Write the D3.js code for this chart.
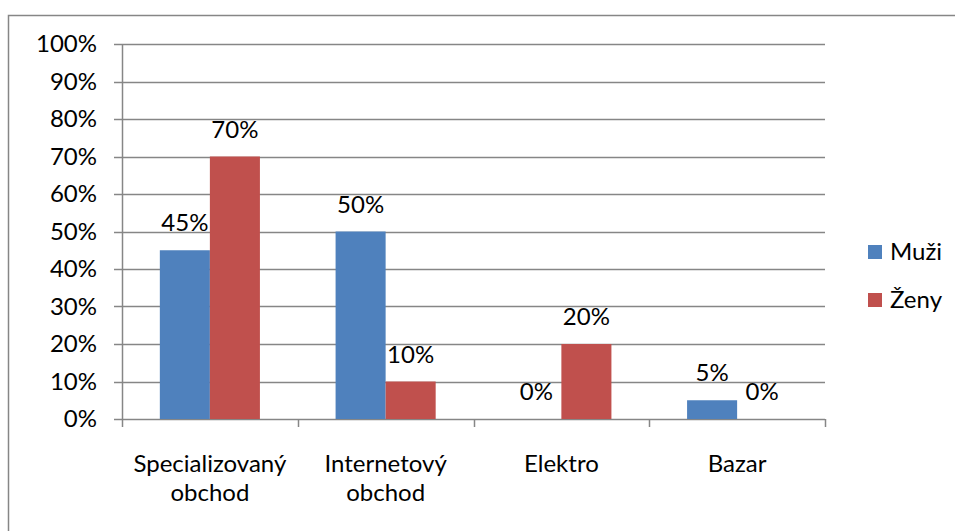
<!DOCTYPE html>
<html>
<head>
<meta charset="utf-8">
<script src="https://cdn.jsdelivr.net/npm/d3@7"></script>
<style>
  html, body { margin: 0; padding: 0; background: #fff; }
  svg { display: block; }
  text { font-family: Lato, "Open Sans", sans-serif; fill: #000; }
</style>
</head>
<body>
<svg id="chart" width="955" height="531"></svg>
<script>
// Purchase place by gender (share of respondents)
const categories = [["Specializovaný", "obchod"], ["Internetový", "obchod"], ["Elektro"], ["Bazar"]];
const seriesNames = ["Muži", "Ženy"];
const muzi = [0.45, 0.50, 0.00, 0.05];
const zeny = [0.70, 0.10, 0.20, 0.00];
const yTicks = [0, 0.1, 0.2, 0.3, 0.4, 0.5, 0.6, 0.7, 0.8, 0.9, 1.0];
const colors = ["#4F81BD", "#C0504D"];

const seriesValues = [muzi, zeny];
const gray = "#868686";
const fontSize = 24;

const svg = d3.select("#chart");

// chart area border (runs off the right and bottom edge)
svg.append("rect")
  .attr("x", 8.5).attr("y", 15.5)
  .attr("width", 1000).attr("height", 1000)
  .attr("fill", "none").attr("stroke", gray).attr("stroke-width", 1.5);

const plot = { left: 122, right: 825, top: 44, bottom: 419 };

const x0 = d3.scaleBand()
  .domain(d3.range(categories.length))
  .range([plot.left, plot.right])
  .paddingInner(0).paddingOuter(0);

const x1 = d3.scaleBand()
  .domain(d3.range(seriesNames.length))
  .range([0, x0.bandwidth()])
  .paddingOuter(0.756).paddingInner(0);

const y = d3.scaleLinear().domain([0, 1]).range([plot.bottom, plot.top]);

// horizontal gridlines
svg.append("g")
  .selectAll("line")
  .data(yTicks)
  .join("line")
  .attr("x1", plot.left - 8).attr("x2", plot.right)
  .attr("y1", d => Math.round(y(d)) + 0.5).attr("y2", d => Math.round(y(d)) + 0.5)
  .attr("stroke", gray).attr("stroke-width", 1.5);

// y axis labels
svg.append("g")
  .selectAll("text")
  .data(yTicks)
  .join("text")
  .attr("x", plot.left - 25)
  .attr("y", d => y(d))
  .attr("dy", "0.35em")
  .attr("text-anchor", "end")
  .style("font-size", fontSize + "px")
  .text(d => d3.format(".0%")(d));

// y axis line
svg.append("line")
  .attr("x1", plot.left + 0.5).attr("x2", plot.left + 0.5)
  .attr("y1", plot.top).attr("y2", plot.bottom + 8)
  .attr("stroke", gray).attr("stroke-width", 1.5);

// category boundary ticks
const bounds = d3.range(categories.length + 1).map(i =>
  i < categories.length ? x0(i) : x0(categories.length - 1) + x0.bandwidth());
svg.append("g")
  .selectAll("line")
  .data(bounds.slice(1))
  .join("line")
  .attr("x1", d => Math.round(d) + 0.5).attr("x2", d => Math.round(d) + 0.5)
  .attr("y1", plot.bottom).attr("y2", plot.bottom + 8)
  .attr("stroke", gray).attr("stroke-width", 1.5);

// bars
const groups = svg.append("g")
  .selectAll("g")
  .data(categories.map((c, i) => i))
  .join("g")
  .attr("transform", i => `translate(${x0(i)},0)`);

groups.selectAll("rect")
  .data(i => seriesValues.map((vals, s) => ({ s, v: vals[i] })))
  .join("rect")
  .attr("x", d => x1(d.s))
  .attr("width", x1.bandwidth())
  .attr("y", d => y(d.v))
  .attr("height", d => y(0) - y(d.v))
  .attr("fill", d => colors[d.s]);

// value labels
groups.selectAll("text")
  .data(i => seriesValues.map((vals, s) => ({ s, v: vals[i] })))
  .join("text")
  .attr("x", d => x1(d.s) + x1.bandwidth() / 2)
  .attr("y", d => y(d.v) - 19)
  .attr("text-anchor", "middle")
  .style("font-size", fontSize + "px")
  .text(d => d3.format(".0%")(d.v));

// x axis category labels
svg.append("g")
  .selectAll("text")
  .data(categories)
  .join("text")
  .attr("x", (d, i) => x0(i) + x0.bandwidth() / 2)
  .attr("y", 472)
  .attr("text-anchor", "middle")
  .style("font-size", fontSize + "px")
  .each(function (lines) {
    d3.select(this).selectAll("tspan")
      .data(lines)
      .join("tspan")
      .attr("x", d3.select(this).attr("x"))
      .attr("dy", (d, j) => j === 0 ? 0 : 29)
      .text(d => d);
  });

// legend
const legend = svg.append("g")
  .selectAll("g")
  .data(seriesNames)
  .join("g")
  .attr("transform", (d, i) => `translate(868,${245 + i * 48})`);
legend.append("rect")
  .attr("width", 14).attr("height", 14)
  .attr("fill", (d, i) => colors[i]);
legend.append("text")
  .attr("x", 22).attr("y", 7)
  .attr("dy", "0.35em")
  .style("font-size", fontSize + "px")
  .text(d => d);
</script>
</body>
</html>
